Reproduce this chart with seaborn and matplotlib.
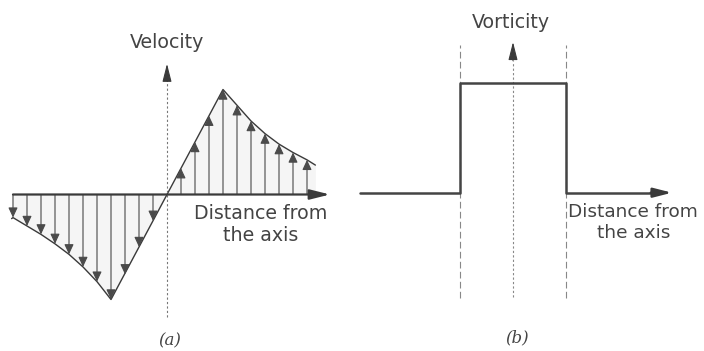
import matplotlib
matplotlib.use("Agg")
import matplotlib.pyplot as plt
import numpy as np
import pandas as pd
import seaborn as sns

sns.set_theme(style="white")
plt.rcParams["font.family"] = ["DejaVu Sans"]

# ---- (a) velocity profile of a Rankine vortex ----
# radial positions in arrow spacings (core radius = 4), velocity relative to the peak
arrow_r = [-11, -10, -9, -8, -7, -6, -5, -4, -3, -2, -1,
           1, 2, 3, 4, 5, 6, 7, 8, 9, 10]
arrow_v = [-0.22, -0.30, -0.38, -0.47, -0.57, -0.69, -0.83, -1.00, -0.76, -0.50, -0.25,
           0.25, 0.50, 0.75, 1.00, 0.85, 0.70, 0.58, 0.48, 0.40, 0.33]
curve_r = [-11.1, -11, -10, -9, -8, -7, -6, -5, -4, 0, 4, 5, 6, 7, 8, 9, 10, 10.6]
curve_v = [-0.23, -0.22, -0.30, -0.38, -0.47, -0.57, -0.69, -0.83, -1.00, 0.0,
           1.00, 0.85, 0.70, 0.58, 0.48, 0.40, 0.33, 0.28]

# ---- (b) vorticity: uniform inside the core, zero outside ----
vort_r = [-2.887, -1.0, 1.0, 2.7]
vort_w = [0.0, 1.0, 0.0, 0.0]

ink = "#444444"
W, H = 704, 351
fig = plt.figure(figsize=(W / 100, H / 100), dpi=100)
fig.patch.set_facecolor("white")

axa = fig.add_axes([0, 0, 345 / W, 1])
axb = fig.add_axes([345 / W, 0, (W - 345) / W, 1])
for ax in (axa, axb):
    ax.set_axis_off()
    ax.patch.set_alpha(0)

axa.set_xlim((0 - 167) / 14, (345 - 167) / 14)
axa.set_ylim((194.5 - 351) / 105, 194.5 / 105)
axb.set_xlim((345 - 513) / 53, (704 - 513) / 53)
axb.set_ylim((192.7 - 351) / 110, 192.7 / 110)


def arrow(ax, start, end, lw=1.0, hl=0.6, hw=0.28, color="#3a3a3a", ls="-"):
    ax.annotate("", xy=end, xytext=start,
                arrowprops=dict(arrowstyle=f"-|>,head_length={hl},head_width={hw}",
                                lw=lw, color=color, shrinkA=0, shrinkB=0,
                                linestyle=ls, mutation_scale=10))


# panel (a)
curve = pd.DataFrame({"r": curve_r, "v": curve_v})
axa.fill_between(curve_r, curve_v, 0, color="#f5f5f5", lw=0, zorder=0)
sns.lineplot(data=curve, x="r", y="v", ax=axa, color="#3a3a3a", lw=1.0,
             estimator=None, sort=False, legend=False)

for r, v in zip(arrow_r, arrow_v):
    arrow(axa, (r, 0), (r, v), lw=0.8, hl=0.6, hw=0.28, color="#4a4a4a")

# radial axis
arrow(axa, (-11.0, 0), (11.64, 0), lw=1.6, hl=1.2, hw=0.3)
# velocity axis (dotted) with arrow head
axa.plot([0, 0], [-1.167, 1.10], color="#777777", lw=0.8, ls=(0, (2, 2)))
arrow(axa, (0, 1.08), (0, 1.245), lw=0.8, hl=1.1, hw=0.28)

fs = 13.7
axa.text(0, 1.443, "Velocity", ha="center", va="center", fontsize=fs, color=ink)
axa.text(6.71, -0.09, "Distance from\nthe axis", ha="center", va="top",
         fontsize=fs, color=ink, linespacing=1.2)
axa.text(0.2, -1.395, "(a)", ha="center", va="center", fontsize=12,
         color=ink, family="DejaVu Serif", style="italic")

# panel (b)
vort = pd.DataFrame({"r": vort_r, "w": vort_w})
sns.lineplot(data=vort, x="r", y="w", ax=axb, color="#444444", lw=1.8,
             estimator=None, sort=False, legend=False, drawstyle="steps-post")
arrow(axb, (2.6, 0), (3.0, 0), lw=1.8, hl=1.1, hw=0.28)

for xr in (-1.0, 1.0):
    axb.plot([xr, xr], [-0.957, 1.343], color="#888888", lw=0.8, ls=(0, (6, 3)), zorder=0)
axb.plot([0, 0], [-0.95, 1.2], color="#888888", lw=0.8, ls=(0, (2, 2)), zorder=0)
arrow(axb, (0, 1.2), (0, 1.37), lw=0.8, hl=1.1, hw=0.28)

axb.text(-0.038, 1.551, "Vorticity", ha="center", va="center", fontsize=fs, color=ink)
axb.text(2.27, -0.094, "Distance from\nthe axis", ha="center", va="top",
         fontsize=13.3, color=ink, linespacing=1.23)
axb.text(0.075, -1.32, "(b)", ha="center", va="center", fontsize=12,
         color=ink, family="DejaVu Serif", style="italic")

fig.savefig("out.png", dpi=100, facecolor="white")
